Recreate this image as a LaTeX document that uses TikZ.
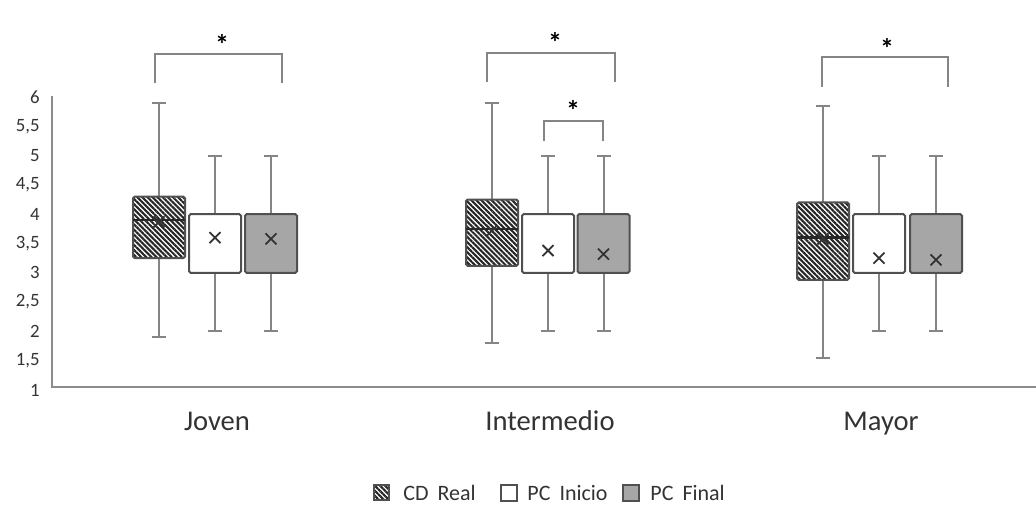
\documentclass[tikz,border=0pt]{standalone}
\usepackage{fontspec}
\setmainfont{Carlito}
\usetikzlibrary{patterns.meta}
\definecolor{wcol}{HTML}{858585}
\definecolor{bcol}{HTML}{505050}
\definecolor{gfill}{HTML}{A6A6A6}
\definecolor{tcol}{HTML}{333333}
\definecolor{acol}{HTML}{8C8C8C}
\newcommand\bxw[6]{%
  \draw[whisk] (#1,{Y(#4)}) -- (#1,{Y(#5)}) +(-7,0) -- +(7,0);
  \draw[whisk] (#1,{Y(#3)}) -- (#1,{Y(#2)}) +(-7,0) -- +(7,0);
  \draw[#6] (#1-26,{Y(#4)}) rectangle (#1+26,{Y(#3)});
}
\newcommand\meanx[2]{\draw[meanst] (#1,{Y(#2)}) +(-5.5,-5.5) -- +(5.5,5.5) +(-5.5,5.5) -- +(5.5,-5.5);}
\newcommand\medl[2]{\draw[medst] (#1-26,{Y(#2)}) -- (#1+26,{Y(#2)});}
\begin{document}
\begin{tikzpicture}[x=0.5pt,y=-0.5pt,
  declare function={Y(\v)=390-(\v-1)*58.6;},
  whisk/.style={draw=wcol,line width=1pt},
  hatchbox/.style={draw=bcol,line width=1pt,rounded corners=0.8pt,
    pattern={Lines[angle=-45,distance=1.8pt,line width=1.05pt]},pattern color=black!85},
  whitebox/.style={draw=bcol,line width=1pt,rounded corners=0.8pt,fill=white},
  graybox/.style={draw=bcol,line width=1pt,rounded corners=0.8pt,fill=gfill},
  meanst/.style={draw=black!80,line width=0.9pt},
  medst/.style={draw=black!85,line width=1.2pt},
  axis/.style={draw=acol,line width=0.8pt},
  brk/.style={draw=wcol,line width=0.8pt},
  tick/.style={anchor=east,text=tcol,font=\fontsize{9.4}{10}\selectfont,inner sep=0pt},
  cat/.style={anchor=base,text=tcol,font=\fontsize{14.3}{16}\selectfont,inner sep=0pt},
  star/.style={text=black,font=\bfseries\fontsize{14}{15}\selectfont,inner sep=0pt},
  leg/.style={anchor=west,text=tcol,font=\fontsize{11}{12}\selectfont,inner sep=0pt}]
\useasboundingbox (0,0) rectangle (1036,513);
% axes
\draw[axis] (52,96) -- (52,387) -- (1036,387);
\foreach \v/\t in {1/1,1.5/{1,5},2/2,2.5/{2,5},3/3,3.5/{3,5},4/4,4.5/{4,5},5/5,5.5/{5,5},6/6}
  \node[tick] (t\v) at (40,{Y(\v)}) {\t};
% Joven
\bxw{159}{1.9}{3.25}{4.3}{5.9}{hatchbox}
\medl{159}{3.9}\meanx{159}{3.87}
\bxw{215}{2}{3}{4}{5}{whitebox}
\meanx{215}{3.6}
\bxw{271}{2}{3}{4}{5}{graybox}
\meanx{271}{3.58}
% Intermedio
\bxw{492}{1.8}{3.12}{4.25}{5.9}{hatchbox}
\medl{492}{3.75}\meanx{492}{3.72}
\bxw{548}{2}{3}{4}{5}{whitebox}
\meanx{548}{3.38}
\bxw{603.5}{2}{3}{4}{5}{graybox}
\meanx{603.5}{3.32}
% Mayor
\bxw{823}{1.55}{2.88}{4.2}{5.85}{hatchbox}
\medl{823}{3.6}\meanx{823}{3.58}
\bxw{879}{2}{3}{4}{5}{whitebox}
\meanx{879}{3.25}
\bxw{936}{2}{3}{4}{5}{graybox}
\meanx{936}{3.22}
% brackets
\coordinate (j1) at (155,83); \coordinate (j2) at (282,83);
\draw[brk] (j1) -- (155,54) -- (282,54) -- (j2);
\node[star] (sj) at (222,44) {*};
\coordinate (i1) at (487,82); \coordinate (i2) at (615,82);
\draw[brk] (i1) -- (487,53) -- (615,53) -- (i2);
\node[star] (si) at (555,42) {*};
\coordinate (k1) at (544,141); \coordinate (k2) at (603,141);
\draw[brk] (k1) -- (544,121) -- (603,121) -- (k2);
\node[star] (sk) at (573,110) {*};
\coordinate (m1) at (822,87); \coordinate (m2) at (948,87);
\draw[brk] (m1) -- (822,57) -- (948,57) -- (m2);
\node[star] (sm) at (887,48) {*};
% categories
\node[cat] (cj) at (217,430) {Joven};
\node[cat] (ci) at (550,430) {Intermedio};
\node[cat] (cm) at (881,430) {Mayor};
% legend
\draw[hatchbox,rounded corners=0pt,line width=0.8pt] (374,485) rectangle (389,500);
\node[leg] (l1) at (403,493) {CD\kern4.5pt Real};
\draw[whitebox,rounded corners=0pt,line width=0.8pt] (501,485) rectangle (517,501);
\node[leg] (l2) at (527,493) {PC\kern4.5pt Inicio};
\draw[graybox,rounded corners=0pt,line width=0.8pt] (623,485) rectangle (639,501);
\node[leg] (l3) at (650,493) {PC\kern4.5pt Final};
\end{tikzpicture}
\end{document}
